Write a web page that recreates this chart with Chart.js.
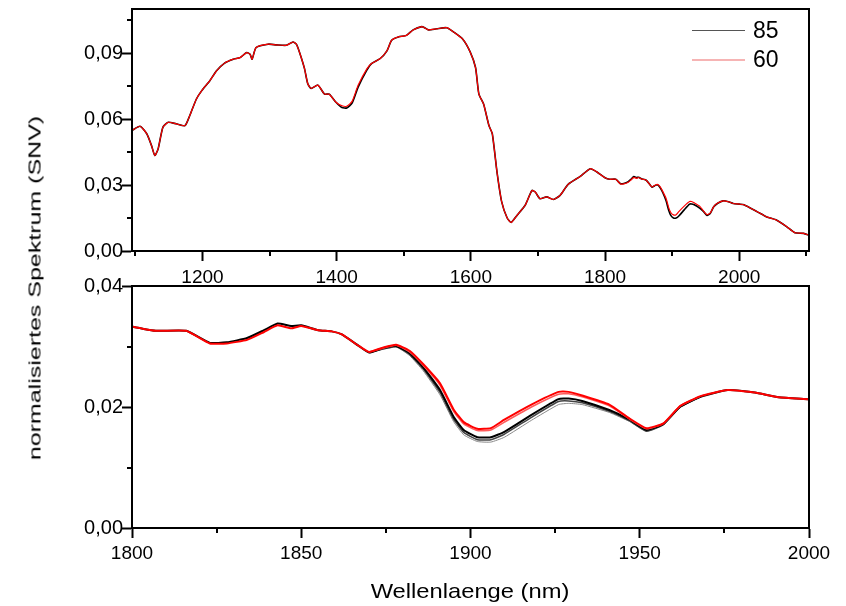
<!DOCTYPE html>
<html>
<head>
<meta charset="utf-8">
<script src="https://cdn.jsdelivr.net/npm/chart.js@4.4.1/dist/chart.umd.min.js"></script>
<style>
    body { margin: 0; background: #fff; }
    #wrap { position: relative; width: 846px; height: 606px; font-family: 'Liberation Sans', Arial, sans-serif; color: #000; }
    #wrap canvas { position: absolute; left: 0; top: 0; }
    .ytitle { position: absolute; left: 35px; top: 288px; font-size: 17px; line-height: 1; white-space: nowrap;
              transform: translate(-50%, -50%) rotate(-90deg) scaleX(1.47); }
    .xtitle { position: absolute; left: 470px; top: 580px; font-size: 21px; line-height: 1; white-space: nowrap;
              transform: translateX(-50%) scaleX(1.13); }
    .leg-line { position: absolute; left: 692px; width: 53px; }
    .leg-text { position: absolute; left: 753px; font-size: 23px; line-height: 1; }
</style>
</head>
<body>
<div id="wrap">
    <canvas id="topChart" width="846" height="606"></canvas>
    <canvas id="zoomChart" width="846" height="606"></canvas>
    <div class="ytitle">normalisiertes Spektrum (SNV)</div>
    <div class="xtitle">Wellenlaenge (nm)</div>
    <div class="leg-line" style="top:30px;height:1px;background:#555;"></div>
    <div class="leg-text" style="top:19px;">85</div>
    <div class="leg-line" style="top:59px;height:2px;background:#f6b4b4;"></div>
    <div class="leg-text" style="top:48px;">60</div>
</div>
<script>
// wavelengths (nm) and SNV spectra
const wl = [1095, 1107, 1117, 1124, 1129, 1134, 1141, 1149, 1161, 1174, 1181, 1191, 1199, 1211, 1221, 1233, 1246, 1256, 1266, 1271,
    1274, 1280, 1298, 1310, 1325, 1335, 1340, 1345, 1352, 1357, 1362, 1372, 1382, 1389, 1399, 1408, 1415, 1423, 1432, 1445,
    1452, 1465, 1475, 1482, 1492, 1504, 1514, 1527, 1531, 1537, 1549, 1564, 1574, 1588, 1599, 1607, 1612, 1619, 1627, 1632,
    1639, 1646, 1654, 1660, 1669, 1681, 1691, 1696, 1703, 1713, 1723, 1733, 1745, 1763, 1778, 1788, 1800, 1807, 1816, 1823,
    1828, 1834, 1839, 1843, 1847, 1850, 1855, 1859, 1862, 1867, 1870, 1874, 1878, 1882, 1886, 1891, 1895, 1898, 1902, 1906,
    1910, 1918, 1926, 1929, 1933, 1941, 1947, 1952, 1957, 1962, 1968, 1976, 1984, 1991, 2000, 2007, 2027, 2041, 2056, 2071,
    2083, 2096, 2104];
const s85 = [0.0548, 0.0567, 0.0533, 0.0480, 0.0434, 0.0465, 0.0562, 0.0585, 0.0578, 0.0570, 0.0615, 0.0691, 0.0729, 0.0774, 0.0819, 0.0854, 0.0872, 0.0879, 0.0902, 0.0894,
    0.0872, 0.0925, 0.0940, 0.0937, 0.0935, 0.0950, 0.0940, 0.0900, 0.0830, 0.0760, 0.0739, 0.0754, 0.0713, 0.0713, 0.0676, 0.0652, 0.0650, 0.0672, 0.0745, 0.0822,
    0.0852, 0.0875, 0.0910, 0.0958, 0.0973, 0.0980, 0.1005, 0.1020, 0.1015, 0.1005, 0.1010, 0.1015, 0.0996, 0.0963, 0.0905, 0.0834, 0.0713, 0.0668, 0.0570, 0.0533,
    0.0359, 0.0223, 0.0151, 0.0130, 0.0163, 0.0208, 0.0275, 0.0268, 0.0238, 0.0246, 0.0234, 0.0253, 0.0303, 0.0339, 0.0374, 0.0359, 0.0333, 0.0326, 0.0326, 0.0306,
    0.0307, 0.0314, 0.0327, 0.0338, 0.0334, 0.0335, 0.0327, 0.0325, 0.0320, 0.0301, 0.0290, 0.0297, 0.0301, 0.0289, 0.0266, 0.0228, 0.0184, 0.0162, 0.0150, 0.0150,
    0.0159, 0.0187, 0.0213, 0.0214, 0.0210, 0.0195, 0.0179, 0.0162, 0.0172, 0.0201, 0.0217, 0.0228, 0.0224, 0.0216, 0.0213, 0.0210, 0.0178, 0.0155, 0.0140, 0.0110,
    0.0083, 0.0080, 0.0072];
const s60 = [0.0548, 0.0567, 0.0533, 0.0480, 0.0434, 0.0465, 0.0562, 0.0585, 0.0578, 0.0570, 0.0615, 0.0691, 0.0729, 0.0774, 0.0819, 0.0854, 0.0872, 0.0879, 0.0902, 0.0894,
    0.0872, 0.0925, 0.0940, 0.0937, 0.0935, 0.0950, 0.0940, 0.0900, 0.0830, 0.0760, 0.0739, 0.0754, 0.0713, 0.0713, 0.0676, 0.0660, 0.0658, 0.0680, 0.0753, 0.0828,
    0.0852, 0.0875, 0.0910, 0.0958, 0.0973, 0.0980, 0.1005, 0.1020, 0.1015, 0.1005, 0.1010, 0.1015, 0.0996, 0.0963, 0.0905, 0.0834, 0.0713, 0.0668, 0.0570, 0.0533,
    0.0359, 0.0223, 0.0151, 0.0130, 0.0163, 0.0208, 0.0275, 0.0268, 0.0238, 0.0246, 0.0234, 0.0253, 0.0303, 0.0339, 0.0374, 0.0359, 0.0333, 0.0326, 0.0326, 0.0305,
    0.0305, 0.0311, 0.0324, 0.0335, 0.0330, 0.0334, 0.0327, 0.0325, 0.0320, 0.0301, 0.0291, 0.0298, 0.0303, 0.0293, 0.0271, 0.0239, 0.0196, 0.0175, 0.0164, 0.0165,
    0.0179, 0.0204, 0.0225, 0.0225, 0.0219, 0.0204, 0.0181, 0.0165, 0.0173, 0.0202, 0.0218, 0.0228, 0.0224, 0.0216, 0.0213, 0.0210, 0.0178, 0.0155, 0.0140, 0.0110,
    0.0083, 0.0080, 0.0072];

// the other replicate spectra only split apart in the 1870-1970 nm band
const wlZoom = [1870, 1878, 1882, 1886, 1891, 1895, 1898, 1902, 1906, 1910, 1918, 1926, 1929, 1933, 1941, 1947, 1952, 1957, 1962, 1968];
const z85b = [0.0290, 0.0300, 0.0287, 0.0263, 0.0224, 0.0180, 0.0158, 0.0146, 0.0146, 0.0155, 0.0183, 0.0209, 0.0210, 0.0207, 0.0193, 0.0177, 0.0160, 0.0171, 0.0200, 0.0217];
const z85c = [0.0290, 0.0299, 0.0285, 0.0260, 0.0220, 0.0176, 0.0154, 0.0143, 0.0142, 0.0150, 0.0178, 0.0204, 0.0206, 0.0204, 0.0191, 0.0176, 0.0160, 0.0171, 0.0200, 0.0217];
const z60b = [0.0291, 0.0302, 0.0291, 0.0269, 0.0236, 0.0193, 0.0172, 0.0161, 0.0162, 0.0175, 0.0200, 0.0221, 0.0222, 0.0217, 0.0202, 0.0180, 0.0164, 0.0173, 0.0202, 0.0218];

// ticks
const topXMajor = [1200, 1400, 1600, 1800, 2000];
const topXMinor = [1100, 1300, 1500, 1700, 1900, 2100];
const topYMajor = [0, 0.03, 0.06, 0.09];
const topYMinor = [0.015, 0.045, 0.075, 0.105];
const zoomXMajor = [1800, 1850, 1900, 1950, 2000];
const zoomXMinor = [1825, 1875, 1925, 1975];
const zoomYMajor = [0, 0.02, 0.04];
const zoomYMinor = [0.01, 0.03];

Chart.defaults.font.family = "'Liberation Sans', Arial, sans-serif";
Chart.defaults.color = '#000';

const toPoints = (xs, ys) => xs.map((x, i) => ({x: x, y: ys[i]}));
const commaFmt = v => v.toFixed(2).replace('.', ',');

// frame round the plot area + the short minor ticks
const frameMinor = {
    id: 'frameMinor',
    afterDraw(chart, args, opts) {
        const {ctx, chartArea: a, scales} = chart;
        ctx.save();
        ctx.strokeStyle = '#000';
        ctx.lineWidth = 2;
        ctx.strokeRect(a.left, a.top, a.right - a.left, a.bottom - a.top);
        ctx.beginPath();
        opts.xMinor.forEach(v => {
            const px = Math.round(scales.x.getPixelForValue(v));
            ctx.moveTo(px, a.bottom);
            ctx.lineTo(px, a.bottom + 5);
        });
        opts.yMinor.forEach(v => {
            const py = Math.round(scales.y.getPixelForValue(v));
            ctx.moveTo(a.left, py);
            ctx.lineTo(a.left - 5, py);
        });
        ctx.stroke();
        ctx.restore();
    }
};

function makeAxis(min, max, major, fmt, pad, size, fit) {
    return {
        type: 'linear',
        min: min,
        max: max,
        afterBuildTicks: s => { s.ticks = major.map(v => ({value: v})); },
        afterFit: fit,
        grid: {drawOnChartArea: false, drawTicks: true, tickLength: 10, tickWidth: 2, tickColor: '#000'},
        border: {display: true, width: 2, color: '#000'},
        ticks: {autoSkip: false, maxRotation: 0, padding: pad, color: '#000', font: {size: size}, callback: fmt}
    };
}

function makePanel(id, datasets, pad, xAxis, yAxis, minor) {
    return new Chart(id, {
        type: 'line',
        data: {datasets: datasets},
        options: {
            responsive: false,
            animation: false,
            devicePixelRatio: 1,
            layout: {padding: pad},
            elements: {point: {radius: 0}},
            scales: {x: xAxis, y: yAxis},
            plugins: {legend: {display: false}, tooltip: {enabled: false}, frameMinor: minor}
        },
        plugins: [frameMinor]
    });
}

const xFit = h => s => { s.height = h; s.paddingLeft = 0; s.paddingRight = 0; };
const yFit = s => { s.width = 132; s.paddingTop = 0; s.paddingBottom = 0; };

// top panel: whole spectrum
makePanel('topChart', [
    {data: toPoints(wl, s60), borderColor: '#ff0000', borderWidth: 1.2, tension: 0.2},
    {data: toPoints(wl, s85), borderColor: '#000', borderWidth: 1.6, tension: 0.2}
], {top: 9, right: 37, bottom: 321, left: 0},
    makeAxis(1095, 2104, topXMajor, v => String(v), 5, 19, xFit(34)),
    makeAxis(0, 0.11, topYMajor, commaFmt, -1, 20, yFit),
    {xMinor: topXMinor, yMinor: topYMinor});

// bottom panel: 1800-2000 nm
makePanel('zoomChart', [
    {data: toPoints(wl, s60), borderColor: '#ff0000', borderWidth: 2, tension: 0.15},
    {data: toPoints(wlZoom, z60b), borderColor: '#ff5a5a', borderWidth: 1.5, tension: 0.15},
    {data: toPoints(wl, s85), borderColor: '#000', borderWidth: 2, tension: 0.15},
    {data: toPoints(wlZoom, z85b), borderColor: '#444', borderWidth: 1.5, tension: 0.15},
    {data: toPoints(wlZoom, z85c), borderColor: '#888', borderWidth: 1, tension: 0.15}
], {top: 286, right: 37, bottom: 0, left: 0},
    makeAxis(1800, 2000, zoomXMajor, v => String(v), 4, 19, xFit(78)),
    makeAxis(0, 0.04, zoomYMajor, commaFmt, -1, 20, yFit),
    {xMinor: zoomXMinor, yMinor: zoomYMinor});
</script>
</body>
</html>
